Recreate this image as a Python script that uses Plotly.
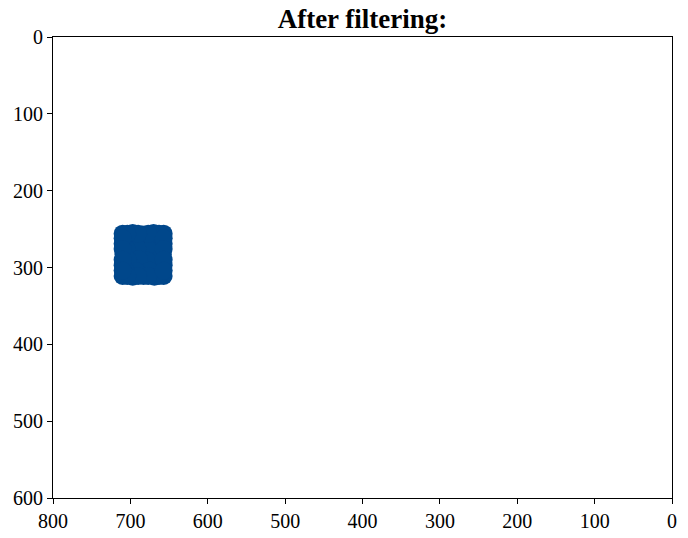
import plotly.graph_objects as go

# Point coordinates (filtered points)
x_vals = [657, 670, 684, 697, 710, 657, 668, 683, 698, 710,
          658, 669, 682, 699, 709, 657, 671, 684, 696, 710,
          657, 669, 683, 697, 710, 663, 677, 690, 704, 662,
          676, 691, 705, 664, 678, 689, 703, 661, 675, 692, 706,
          663, 677, 690, 704, 663, 677, 690, 704,
          710, 710, 710, 710, 657, 657, 657, 657]
y_vals = [256, 255, 257, 255, 256, 269, 270, 268, 270, 269,
          283, 282, 284, 283, 282, 297, 298, 296, 298, 297,
          311, 312, 311, 312, 311, 262, 263, 261, 262, 276,
          277, 275, 276, 290, 291, 289, 290, 305, 304, 305, 304,
          256, 256, 256, 256, 311, 311, 311, 311,
          262, 276, 290, 304, 262, 276, 290, 304]

x_ticks = [800, 700, 600, 500, 400, 300, 200, 100, 0]
y_ticks = [0, 100, 200, 300, 400, 500, 600]

fig = go.Figure()
fig.add_trace(go.Scatter(
    x=x_vals, y=y_vals, mode="markers",
    marker=dict(size=18, color="rgb(0,71,139)", line=dict(width=0)),
    showlegend=False,
))

axis_common = dict(
    showgrid=False, zeroline=False, showline=True, linecolor="black",
    linewidth=1, mirror=True, ticks="outside", ticklen=5, tickcolor="black",
    tickfont=dict(family="Liberation Serif", size=20, color="black"),
)

fig.update_layout(
    width=688, height=538,
    margin=dict(l=53, r=16, t=37, b=40),
    paper_bgcolor="white", plot_bgcolor="white",
    title=dict(text="<b>After filtering:</b>", x=0.5, xref="paper",
               y=1, yref="paper", yanchor="bottom", pad=dict(b=9),
               font=dict(family="Liberation Serif", size=27, color="black")),
    xaxis=dict(range=[800, 0], tickvals=x_ticks, automargin=False, **axis_common),
    yaxis=dict(range=[600, 0], tickvals=y_ticks, automargin=False, **axis_common),
)

fig.write_html("out.html",
               config={"displayModeBar": False},
               post_script="document.body.style.margin='0';document.body.style.overflow='hidden';")
